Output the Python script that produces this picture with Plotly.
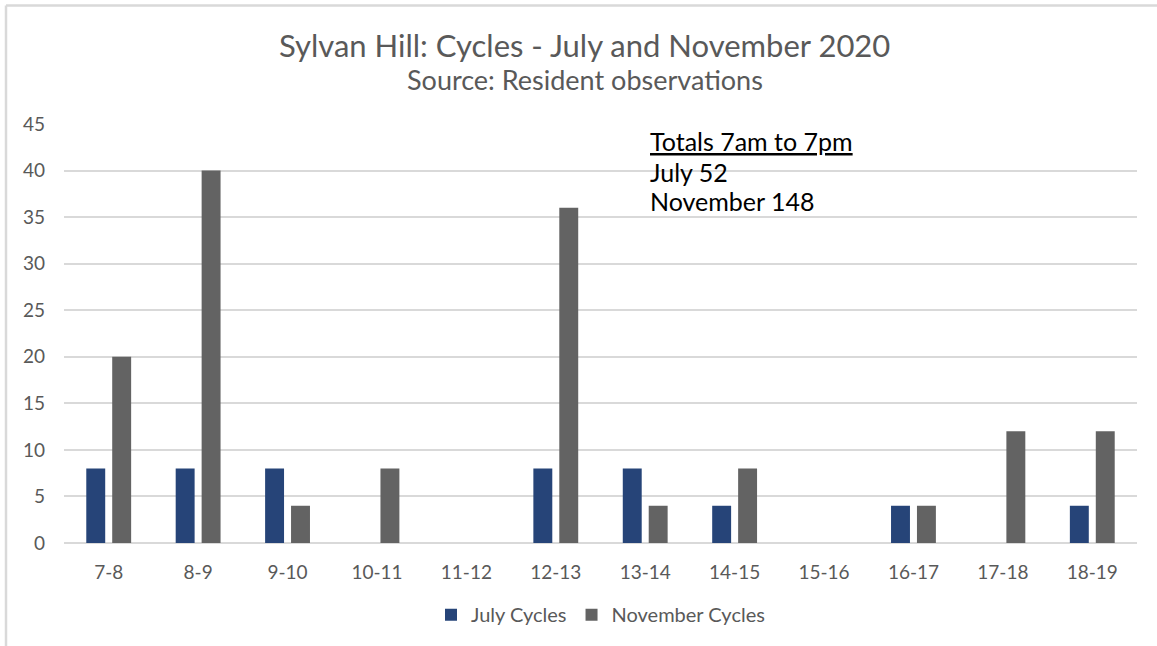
import plotly.graph_objects as go

categories = ["7-8", "8-9", "9-10", "10-11", "11-12", "12-13", "13-14", "14-15", "15-16", "16-17", "17-18", "18-19"]
july_cycles = [8, 8, 8, 0, 0, 8, 8, 4, 0, 4, 0, 4]
november_cycles = [20, 40, 4, 8, 0, 36, 4, 8, 0, 4, 12, 12]
y_ticks = [0, 5, 10, 15, 20, 25, 30, 35, 40, 45]

W, H = 1157, 646
L, R, T, B = 64, 20, 124, 101
pw, ph = W - L - R, H - T - B

def px_x(x):
    return (x - L) / pw

def px_y(y):
    return 1 - (y - T) / ph

font_family = "Lato, Open Sans, sans-serif"
tick_col = "#595959"

fig = go.Figure()
fig.add_trace(go.Bar(x=categories, y=july_cycles, name="July Cycles",
                     marker=dict(color="#264478", line=dict(width=0))))
fig.add_trace(go.Bar(x=categories, y=november_cycles, name="November Cycles",
                     marker=dict(color="#636363", line=dict(width=0))))

fig.update_layout(
    width=W, height=H,
    margin=dict(l=L, r=R, t=T, b=B, pad=0),
    paper_bgcolor="white", plot_bgcolor="white",
    barmode="group", bargap=0.42, bargroupgap=0.27,
    font=dict(family=font_family, color=tick_col, size=19),
    showlegend=True,
    legend=dict(orientation="h", x=0.5, xanchor="center", y=px_y(617), yanchor="middle",
                font=dict(size=20, color=tick_col), itemwidth=30, traceorder="normal"),
    xaxis=dict(type="category", showgrid=False, ticks="", showline=False, zeroline=False,
               tickfont=dict(size=19, color=tick_col), ticklabelstandoff=16),
    yaxis=dict(range=[0, 45], tickvals=y_ticks, showgrid=True, gridcolor="#d9d9d9", gridwidth=1.5,
               zeroline=True, zerolinecolor="#d9d9d9", zerolinewidth=1.5, showline=False, ticks="",
               tickfont=dict(size=19, color=tick_col), ticklabelstandoff=18),
)

annotations = [
    dict(text="Sylvan Hill: Cycles - July and November 2020", x=px_x(584), xanchor="center",
         y=px_y(45), yanchor="middle", font=dict(size=31, color=tick_col)),
    dict(text="Source: Resident observations", x=px_x(585), xanchor="center",
         y=px_y(79), yanchor="middle", font=dict(size=27, color=tick_col)),
    dict(text="<u>Totals 7am to 7pm</u>", x=px_x(648), xanchor="left",
         y=px_y(141), yanchor="middle", font=dict(size=25, color="#000000")),
    dict(text="July %d" % sum(july_cycles), x=px_x(648), xanchor="left",
         y=px_y(172), yanchor="middle", font=dict(size=25, color="#000000")),
    dict(text="November %d" % sum(november_cycles), x=px_x(648), xanchor="left",
         y=px_y(201), yanchor="middle", font=dict(size=25, color="#000000")),
]
for a in annotations:
    a.update(xref="paper", yref="paper", showarrow=False)
    fig.add_annotation(**a)

# chart frame border (partially visible)
fig.add_shape(type="line", xref="paper", yref="paper", x0=px_x(6), x1=px_x(W + 5), y0=px_y(5), y1=px_y(5),
              line=dict(color="#d9d9d9", width=2.5))
fig.add_shape(type="line", xref="paper", yref="paper", x0=px_x(6), x1=px_x(6), y0=px_y(5), y1=px_y(H + 5),
              line=dict(color="#d9d9d9", width=2.5))

fig.write_html("out.html", config={"displayModeBar": False},
               post_script="document.body.style.margin='0';")
